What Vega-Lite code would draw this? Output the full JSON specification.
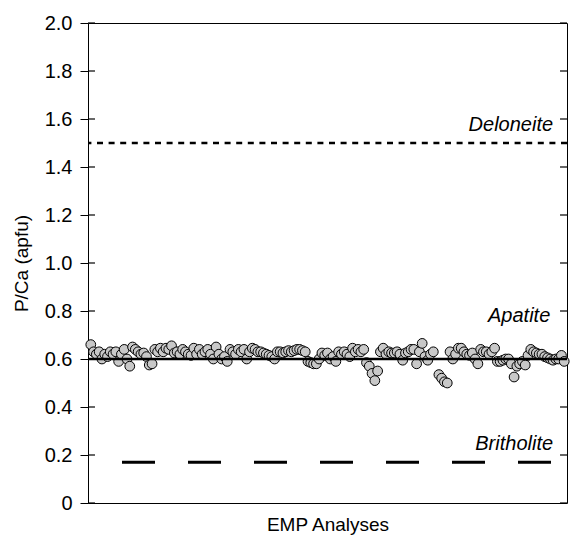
{
  "$schema": "https://vega.github.io/schema/vega-lite/v6.json",
  "width": 479,
  "height": 480,
  "autosize": {"type": "none"},
  "padding": {"left": 88, "top": 23, "right": 4, "bottom": 35},
  "config": {
    "view": {"stroke": "#000", "strokeWidth": 1},
    "font": "Liberation Sans",
    "axis": {
      "labelFont": "Liberation Sans",
      "titleFont": "Liberation Sans",
      "labelFontSize": 20,
      "titleFontSize": 19,
      "titleFontWeight": "normal",
      "labelColor": "#000",
      "titleColor": "#000",
      "tickColor": "#000",
      "domainColor": "#000",
      "grid": false
    }
  },
  "datasets": {
    "analyses": [
      {"n": 1, "ratio": 0.66}, {"n": 2, "ratio": 0.63}, {"n": 3, "ratio": 0.62}, {"n": 4, "ratio": 0.63},
      {"n": 5, "ratio": 0.6}, {"n": 6, "ratio": 0.62}, {"n": 7, "ratio": 0.61}, {"n": 8, "ratio": 0.63},
      {"n": 9, "ratio": 0.62}, {"n": 10, "ratio": 0.63}, {"n": 11, "ratio": 0.59}, {"n": 12, "ratio": 0.62},
      {"n": 13, "ratio": 0.64}, {"n": 14, "ratio": 0.6}, {"n": 15, "ratio": 0.57}, {"n": 16, "ratio": 0.65},
      {"n": 17, "ratio": 0.64}, {"n": 18, "ratio": 0.63}, {"n": 19, "ratio": 0.62}, {"n": 20, "ratio": 0.625},
      {"n": 21, "ratio": 0.61}, {"n": 22, "ratio": 0.575}, {"n": 23, "ratio": 0.58}, {"n": 24, "ratio": 0.64},
      {"n": 25, "ratio": 0.63}, {"n": 26, "ratio": 0.645}, {"n": 27, "ratio": 0.63}, {"n": 28, "ratio": 0.645},
      {"n": 29, "ratio": 0.64}, {"n": 30, "ratio": 0.655}, {"n": 31, "ratio": 0.625}, {"n": 32, "ratio": 0.63},
      {"n": 33, "ratio": 0.62}, {"n": 34, "ratio": 0.64}, {"n": 35, "ratio": 0.63}, {"n": 36, "ratio": 0.62},
      {"n": 37, "ratio": 0.615}, {"n": 38, "ratio": 0.645}, {"n": 39, "ratio": 0.62}, {"n": 40, "ratio": 0.64},
      {"n": 41, "ratio": 0.62}, {"n": 42, "ratio": 0.63}, {"n": 43, "ratio": 0.64}, {"n": 44, "ratio": 0.62},
      {"n": 45, "ratio": 0.6}, {"n": 46, "ratio": 0.65}, {"n": 47, "ratio": 0.62}, {"n": 48, "ratio": 0.6},
      {"n": 49, "ratio": 0.61}, {"n": 50, "ratio": 0.59}, {"n": 51, "ratio": 0.64}, {"n": 52, "ratio": 0.63},
      {"n": 53, "ratio": 0.62}, {"n": 54, "ratio": 0.64}, {"n": 55, "ratio": 0.63}, {"n": 56, "ratio": 0.64},
      {"n": 57, "ratio": 0.6}, {"n": 58, "ratio": 0.63}, {"n": 59, "ratio": 0.645}, {"n": 60, "ratio": 0.64},
      {"n": 61, "ratio": 0.63}, {"n": 62, "ratio": 0.63}, {"n": 63, "ratio": 0.625}, {"n": 64, "ratio": 0.62},
      {"n": 65, "ratio": 0.615}, {"n": 66, "ratio": 0.61}, {"n": 67, "ratio": 0.6}, {"n": 68, "ratio": 0.63},
      {"n": 69, "ratio": 0.63}, {"n": 70, "ratio": 0.625}, {"n": 71, "ratio": 0.63}, {"n": 72, "ratio": 0.635},
      {"n": 73, "ratio": 0.63}, {"n": 74, "ratio": 0.635}, {"n": 75, "ratio": 0.64}, {"n": 76, "ratio": 0.64},
      {"n": 77, "ratio": 0.635}, {"n": 78, "ratio": 0.63}, {"n": 79, "ratio": 0.59}, {"n": 80, "ratio": 0.585},
      {"n": 81, "ratio": 0.58}, {"n": 82, "ratio": 0.58}, {"n": 83, "ratio": 0.6}, {"n": 84, "ratio": 0.625},
      {"n": 85, "ratio": 0.615}, {"n": 86, "ratio": 0.625}, {"n": 87, "ratio": 0.6}, {"n": 88, "ratio": 0.61},
      {"n": 89, "ratio": 0.59}, {"n": 90, "ratio": 0.63}, {"n": 91, "ratio": 0.62}, {"n": 92, "ratio": 0.63},
      {"n": 93, "ratio": 0.62}, {"n": 94, "ratio": 0.61}, {"n": 95, "ratio": 0.645}, {"n": 96, "ratio": 0.63},
      {"n": 97, "ratio": 0.64}, {"n": 98, "ratio": 0.63}, {"n": 99, "ratio": 0.64}, {"n": 100, "ratio": 0.585},
      {"n": 101, "ratio": 0.57}, {"n": 102, "ratio": 0.54}, {"n": 103, "ratio": 0.51}, {"n": 104, "ratio": 0.55},
      {"n": 105, "ratio": 0.63}, {"n": 106, "ratio": 0.645}, {"n": 107, "ratio": 0.62}, {"n": 108, "ratio": 0.63},
      {"n": 109, "ratio": 0.625}, {"n": 110, "ratio": 0.625}, {"n": 111, "ratio": 0.63}, {"n": 112, "ratio": 0.62},
      {"n": 113, "ratio": 0.595}, {"n": 114, "ratio": 0.625}, {"n": 115, "ratio": 0.63}, {"n": 116, "ratio": 0.64},
      {"n": 117, "ratio": 0.64}, {"n": 118, "ratio": 0.58}, {"n": 119, "ratio": 0.63}, {"n": 120, "ratio": 0.665},
      {"n": 121, "ratio": 0.61}, {"n": 122, "ratio": 0.595}, {"n": 123, "ratio": 0.62}, {"n": 124, "ratio": 0.63},
      {"n": 126, "ratio": 0.535}, {"n": 127, "ratio": 0.52}, {"n": 128, "ratio": 0.505}, {"n": 129, "ratio": 0.5},
      {"n": 130, "ratio": 0.63}, {"n": 131, "ratio": 0.6}, {"n": 132, "ratio": 0.62}, {"n": 133, "ratio": 0.645},
      {"n": 134, "ratio": 0.645}, {"n": 135, "ratio": 0.63}, {"n": 136, "ratio": 0.62}, {"n": 137, "ratio": 0.615},
      {"n": 138, "ratio": 0.625}, {"n": 139, "ratio": 0.6}, {"n": 140, "ratio": 0.58}, {"n": 141, "ratio": 0.64},
      {"n": 142, "ratio": 0.63}, {"n": 143, "ratio": 0.63}, {"n": 144, "ratio": 0.62}, {"n": 145, "ratio": 0.63},
      {"n": 146, "ratio": 0.645}, {"n": 147, "ratio": 0.59}, {"n": 148, "ratio": 0.59}, {"n": 149, "ratio": 0.595},
      {"n": 150, "ratio": 0.6}, {"n": 151, "ratio": 0.6}, {"n": 152, "ratio": 0.58}, {"n": 153, "ratio": 0.525},
      {"n": 154, "ratio": 0.57}, {"n": 155, "ratio": 0.58}, {"n": 156, "ratio": 0.59}, {"n": 157, "ratio": 0.575},
      {"n": 158, "ratio": 0.615}, {"n": 159, "ratio": 0.64}, {"n": 160, "ratio": 0.63}, {"n": 161, "ratio": 0.625},
      {"n": 162, "ratio": 0.62}, {"n": 163, "ratio": 0.62}, {"n": 164, "ratio": 0.61}, {"n": 165, "ratio": 0.605},
      {"n": 166, "ratio": 0.6}, {"n": 167, "ratio": 0.595}, {"n": 168, "ratio": 0.6}, {"n": 169, "ratio": 0.6},
      {"n": 170, "ratio": 0.615}, {"n": 171, "ratio": 0.59}
    ],
    "minerals": [
      {"mineral": "Deloneite", "ratio": 1.5},
      {"mineral": "Apatite", "ratio": 0.6},
      {"mineral": "Britholite", "ratio": 0.17}
    ],
    "gridTicks": [
      {"ratio": 0}, {"ratio": 0.2}, {"ratio": 0.4}, {"ratio": 0.6}, {"ratio": 0.8}, {"ratio": 1.0},
      {"ratio": 1.2}, {"ratio": 1.4}, {"ratio": 1.6}, {"ratio": 1.8}, {"ratio": 2.0}
    ]
  },
  "layer": [
    {
      "data": {"name": "analyses"},
      "mark": {"type": "circle", "size": 95, "color": "#c8c8c8", "stroke": "#000", "strokeWidth": 1, "opacity": 1},
      "encoding": {
        "x": {
          "field": "n", "type": "quantitative",
          "scale": {"domain": [0, 172], "nice": false, "zero": false},
          "axis": {"orient": "bottom", "title": "EMP Analyses", "labels": false, "ticks": false, "domain": false, "titlePadding": 12}
        },
        "y": {
          "field": "ratio", "type": "quantitative",
          "scale": {"domain": [0, 2], "nice": false},
          "axis": {
            "orient": "left", "title": "P/Ca (apfu)", "values": [0, 0.2, 0.4, 0.6, 0.8, 1.0, 1.2, 1.4, 1.6, 1.8, 2.0],
            "labelExpr": "datum.value == 0 ? '0' : format(datum.value, '.1f')",
            "tickSize": 8, "labelPadding": 8, "domain": false, "titlePadding": 13
          }
        }
      }
    },
    {
      "data": {"name": "gridTicks"},
      "mark": {"type": "tick", "orient": "horizontal", "color": "#000", "size": 7, "thickness": 1.2, "opacity": 1},
      "encoding": {
        "x": {"datum": 1.25, "type": "quantitative"},
        "y": {"field": "ratio", "type": "quantitative"}
      }
    },
    {
      "data": {"name": "gridTicks"},
      "mark": {"type": "tick", "orient": "horizontal", "color": "#000", "size": 7, "thickness": 1.2, "opacity": 1},
      "encoding": {
        "x": {"datum": 170.75, "type": "quantitative"},
        "y": {"field": "ratio", "type": "quantitative"}
      }
    },
    {
      "data": {"name": "minerals"},
      "transform": [{"filter": "datum.mineral == 'Apatite'"}],
      "mark": {"type": "rule", "color": "#000", "strokeWidth": 2.5},
      "encoding": {"y": {"field": "ratio", "type": "quantitative"}}
    },
    {
      "data": {"name": "minerals"},
      "transform": [{"filter": "datum.mineral == 'Deloneite'"}],
      "mark": {"type": "rule", "color": "#000", "strokeWidth": 2.5, "strokeDash": [6, 5.6]},
      "encoding": {"y": {"field": "ratio", "type": "quantitative"}}
    },
    {
      "data": {"name": "minerals"},
      "transform": [{"filter": "datum.mineral == 'Britholite'"}],
      "mark": {"type": "rule", "color": "#000", "strokeWidth": 3, "strokeDash": [33, 33], "strokeDashOffset": 50},
      "encoding": {"y": {"field": "ratio", "type": "quantitative"}}
    },
    {
      "data": {"name": "minerals"},
      "transform": [{"filter": "datum.mineral != 'Apatite'"}],
      "mark": {"type": "text", "font": "Liberation Sans", "fontStyle": "italic", "fontSize": 20, "align": "right", "baseline": "alphabetic", "dy": -12, "color": "#000"},
      "encoding": {
        "text": {"field": "mineral"},
        "x": {"datum": 167, "type": "quantitative"},
        "y": {"field": "ratio", "type": "quantitative"}
      }
    },
    {
      "data": {"name": "minerals"},
      "transform": [{"filter": "datum.mineral == 'Apatite'"}],
      "mark": {"type": "text", "font": "Liberation Sans", "fontStyle": "italic", "fontSize": 20, "align": "right", "baseline": "alphabetic", "dy": -37, "color": "#000"},
      "encoding": {
        "text": {"field": "mineral"},
        "x": {"datum": 166, "type": "quantitative"},
        "y": {"field": "ratio", "type": "quantitative"}
      }
    }
  ]
}
